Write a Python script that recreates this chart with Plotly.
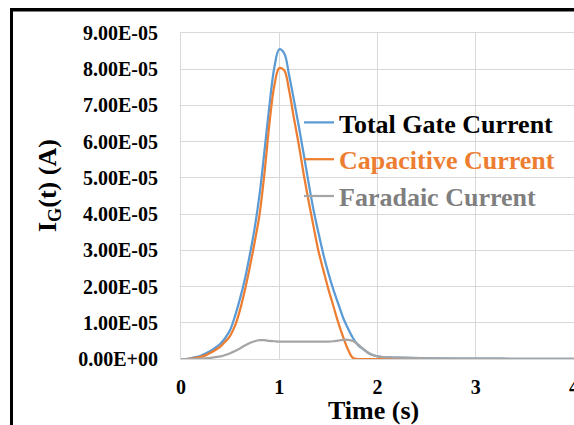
import numpy as np
import plotly.graph_objects as go

# Time samples (s)
time_s = [0.00, 0.05, 0.10, 0.15, 0.20, 0.25, 0.30, 0.35, 0.40, 0.45,
          0.50, 0.55, 0.60, 0.65, 0.70, 0.75, 0.80, 0.85, 0.90, 0.95,
          1.00, 1.05, 1.10, 1.15, 1.20, 1.25, 1.30, 1.35, 1.40, 1.45,
          1.50, 1.55, 1.60, 1.65, 1.70, 1.75, 1.80, 1.85, 1.90, 1.95,
          2.00, 2.05, 2.10, 2.15, 2.20, 2.50, 3.00, 3.50, 4.00]

# Currents in units of 1e-5 A
total_e5 = [0.00, 0.00, 0.02, 0.05, 0.09, 0.15, 0.22, 0.31, 0.42, 0.58,
            0.80, 1.19, 1.66, 2.20, 2.87, 3.62, 4.55, 5.75, 7.00, 8.05,
            8.55, 8.44, 7.84, 7.14, 6.41, 5.64, 4.84, 4.10, 3.47, 2.88,
            2.37, 1.92, 1.53, 1.14, 0.84, 0.58, 0.39, 0.28, 0.18, 0.11,
            0.07, 0.055, 0.045, 0.04, 0.035, 0.02, 0.01, 0.005, 0.00]

capacitive_e5 = [0.00, 0.00, 0.01, 0.03, 0.06, 0.10, 0.17, 0.25, 0.34, 0.48,
                 0.64, 0.92, 1.35, 1.90, 2.53, 3.23, 4.00, 5.14, 6.50, 7.55,
                 8.03, 7.97, 7.42, 6.64, 5.90, 5.08, 4.34, 3.64, 2.97, 2.44,
                 1.93, 1.47, 1.01, 0.61, 0.26, 0.03, 0.00, 0.00, 0.00, 0.00,
                 0.00, 0.00, 0.00, 0.00, 0.00, 0.00, 0.00, 0.00, 0.00]

faradaic_e5 = [0.00, 0.00, 0.00, 0.005, 0.01, 0.02, 0.03, 0.05, 0.07, 0.11,
               0.16, 0.22, 0.29, 0.37, 0.44, 0.49, 0.52, 0.52, 0.50, 0.49,
               0.48, 0.48, 0.48, 0.48, 0.48, 0.48, 0.48, 0.48, 0.48, 0.48,
               0.48, 0.49, 0.51, 0.53, 0.53, 0.50, 0.40, 0.29, 0.18, 0.11,
               0.07, 0.055, 0.045, 0.04, 0.035, 0.02, 0.01, 0.005, 0.00]

series_names = ["Total Gate Current", "Capacitive Current", "Faradaic Current"]
y_tick_labels = ["0.00E+00", "1.00E-05", "2.00E-05", "3.00E-05", "4.00E-05",
                 "5.00E-05", "6.00E-05", "7.00E-05", "8.00E-05", "9.00E-05"]
x_tick_values = [0, 1, 2, 3, 4]

SCALE = 1e-5
y_tick_values = [i * SCALE for i in range(len(y_tick_labels))]

FONT = "Liberation Serif"
colors = ["#5B9BD5", "#ED7D31", "#A5A5A5"]
text_colors = ["#000000", "#ED7D31", "#7F7F7F"]

fig = go.Figure()
for name, vals, col, tcol in zip(series_names,
                                 [total_e5, capacitive_e5, faradaic_e5],
                                 colors, text_colors):
    fig.add_trace(go.Scatter(
        x=time_s, y=np.array(vals) * SCALE, mode="lines",
        name=f"<span style='color:{tcol}'>{name}</span>",
        line=dict(color=col, width=2.25, shape="spline", smoothing=1.0),
    ))

L, R, T, B = 181, 0, 33, 66
W, H = 574, 425
pw = W - L - R
ph = H - T - B

def px_x(p):
    return (p - L) / pw

def px_y(p):
    return (H - B - p) / ph

frame = dict(color="black", width=3)

fig.update_layout(
    width=W, height=H,
    margin=dict(l=L, r=R, t=T, b=B, autoexpand=False),
    paper_bgcolor="white", plot_bgcolor="white",
    font=dict(family=FONT, size=20, color="black", weight="bold"),
    showlegend=True,
    legend=dict(
        x=px_x(299), y=px_y(99), xanchor="left", yanchor="top",
        bgcolor="rgba(0,0,0,0)", borderwidth=0,
        font=dict(family=FONT, size=26, color="black", weight="bold"),
        itemwidth=30,
    ),
    xaxis=dict(
        range=[0, 4], tickvals=x_tick_values, automargin=False,
        showgrid=True, gridcolor="#D9D9D9", gridwidth=1,
        zeroline=False, showline=True, linecolor="#D9D9D9", mirror=True,
        ticks="outside", ticklen=10, tickcolor="rgba(0,0,0,0)",
        ticklabeloverflow="allow",
        tickfont=dict(family=FONT, size=20, color="black", weight="bold"),
    ),
    yaxis=dict(
        range=[0, 9e-5], tickvals=y_tick_values, ticktext=y_tick_labels,
        automargin=False,
        showgrid=True, gridcolor="#D9D9D9", gridwidth=1,
        zeroline=False, showline=True, linecolor="#D9D9D9", mirror=True,
        ticks="outside", ticklen=18, tickcolor="rgba(0,0,0,0)",
        tickfont=dict(family=FONT, size=20, color="black", weight="bold"),
    ),
    annotations=[
        dict(text="I<sub>G</sub>(t) (A)", textangle=-90,
             xref="paper", yref="paper", x=px_x(49), y=px_y(186),
             xanchor="center", yanchor="middle", showarrow=False,
             font=dict(family=FONT, size=26, color="black", weight="bold")),
        dict(text="Time (s)",
             xref="paper", yref="paper", x=px_x(373), y=px_y(410),
             xanchor="center", yanchor="middle", showarrow=False,
             font=dict(family=FONT, size=26, color="black", weight="bold")),
    ],
    shapes=[
        dict(type="line", xref="paper", yref="paper",
             x0=px_x(10), x1=px_x(574), y0=px_y(10), y1=px_y(10),
             line=frame, layer="above"),
        dict(type="line", xref="paper", yref="paper",
             x0=px_x(11.5), x1=px_x(11.5), y0=px_y(8.5), y1=px_y(425),
             line=frame, layer="above"),
    ],
)

post = (
    "document.body.style.margin='0px';"
    "document.body.style.overflow='hidden';"
    "var f=document.createElement('div');"
    "f.style.cssText='position:absolute;left:10px;top:8px;width:2000px;"
    "height:2000px;border-top:2.5px solid #000;border-left:2.5px solid #000;"
    "pointer-events:none;box-sizing:border-box;';"
    "document.body.appendChild(f);"
)

fig.write_html("out.html", config={"displayModeBar": False}, post_script=post)
